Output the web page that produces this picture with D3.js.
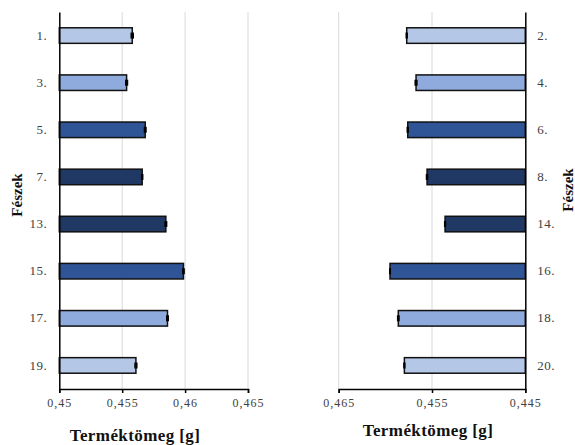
<!DOCTYPE html>
<html>
<head>
<meta charset="utf-8">
<script src="https://cdn.jsdelivr.net/npm/d3@7"></script>
<style>
  html, body { margin: 0; padding: 0; background: #fff; }
  svg { display: block; }
  svg text { font-family: "Liberation Serif", "Times New Roman", serif; }
</style>
</head>
<body>
<svg id="chart" width="575" height="445"></svg>
<script>
// Odd-numbered nests (left panel) and even-numbered nests (right panel)
const leftCats  = ["1.", "3.", "5.", "7.", "13.", "15.", "17.", "19."];
const leftVals  = [0.4558, 0.45535, 0.45683, 0.45659, 0.45847, 0.45987, 0.4586, 0.45609];
const leftErr   = [0.00008, 0.00007, 0.00006, 0.00004, 0.00006, 0.00005, 0.00006, 0.00007];

const rightCats = ["2.", "4.", "6.", "8.", "14.", "16.", "18.", "20."];
const rightVals = [0.45771, 0.45671, 0.4576, 0.45553, 0.4536, 0.4595, 0.45861, 0.45796];
const rightErr  = [0.00005, 0.00009, 0.00005, 0.00006, 0.00004, 0.00003, 0.00007, 0.00005];

const leftTicks  = [0.45, 0.455, 0.46, 0.465];
const rightTicks = [0.465, 0.455, 0.445];

const barColors = ["#b4c7e7", "#8faadc", "#2f5597", "#203864", "#203864", "#2f5597", "#8faadc", "#b4c7e7"];

const axisTitle = "Terméktömeg [g]";
const catTitle = "Fészek";

const svg = d3.select("#chart");
const fmt = d => String(d).replace(".", ",");

const plotTop = 12, plotBottom = 389;

function panel(cfg) {
  const x = d3.scaleLinear().domain(cfg.domain).range(cfg.range);
  const y = d3.scaleBand().domain(cfg.cats).range([plotTop, plotBottom]).paddingInner(0.67).paddingOuter(0.335);
  const g = svg.append("g");
  const base = cfg.domain[cfg.baseIndex];

  // gridlines
  g.selectAll("line.grid").data(cfg.ticks.filter(t => t !== base)).join("line")
    .attr("x1", d => x(d)).attr("x2", d => x(d))
    .attr("y1", plotTop).attr("y2", plotBottom)
    .attr("stroke", "#d9d9d9").attr("stroke-width", 1);

  // bars
  g.selectAll("rect.bar").data(cfg.vals).join("rect")
    .attr("x", d => Math.min(x(base), x(d)))
    .attr("width", d => Math.abs(x(d) - x(base)))
    .attr("y", (d, i) => y(cfg.cats[i]))
    .attr("height", y.bandwidth())
    .attr("fill", (d, i) => barColors[i])
    .attr("stroke", "#111").attr("stroke-width", 1.5);

  // error bars
  const eb = g.selectAll("g.err").data(cfg.vals).join("g")
    .attr("transform", (d, i) => `translate(0,${y(cfg.cats[i]) + y.bandwidth() / 2})`);
  eb.append("line")
    .attr("x1", (d, i) => x(d - cfg.err[i])).attr("x2", (d, i) => x(d + cfg.err[i]))
    .attr("stroke", "#000").attr("stroke-width", 1.5);
  [-1, 1].forEach(s => {
    eb.append("line")
      .attr("x1", (d, i) => x(d + s * cfg.err[i])).attr("x2", (d, i) => x(d + s * cfg.err[i]))
      .attr("y1", -3).attr("y2", 3)
      .attr("stroke", "#000").attr("stroke-width", 1.5);
  });

  // x axis
  const xAxis = d3.axisBottom(x).tickValues(cfg.ticks).tickFormat(fmt).tickSize(4).tickPadding(5);
  const ax = g.append("g").attr("transform", `translate(0,${plotBottom})`).call(xAxis)
    .attr("font-family", null);
  ax.select(".domain").attr("stroke", "#000").attr("stroke-width", 1.5);
  ax.selectAll(".tick line").attr("stroke", "#000").attr("stroke-width", 1.5);
  ax.selectAll(".tick text").attr("font-size", 12).attr("letter-spacing", 1).attr("fill", "#404040");

  // category axis
  const yAxis = (cfg.side === "left" ? d3.axisLeft(y) : d3.axisRight(y)).tickSize(0).tickPadding(12);
  const ay = g.append("g").attr("transform", `translate(${x(base)},0)`).call(yAxis)
    .attr("font-family", null);
  ay.select(".domain").attr("stroke", "#000").attr("stroke-width", 1.5);
  ay.selectAll(".tick text").attr("font-size", 13).attr("letter-spacing", 0.5).attr("fill", "#404040");

  // titles
  g.append("text").attr("x", cfg.titleX).attr("y", cfg.titleY)
    .attr("text-anchor", "middle").attr("font-size", 17).attr("font-weight", "bold")
    .attr("letter-spacing", 0.4).attr("fill", "#111").text(axisTitle);
  g.append("text")
    .attr("transform", `translate(${cfg.catX},${cfg.catY}) rotate(-90)`)
    .attr("text-anchor", "middle").attr("dominant-baseline", "central")
    .attr("font-size", 15).attr("font-weight", "bold").attr("fill", "#111").text(catTitle);
}

panel({ cats: leftCats, vals: leftVals, err: leftErr, ticks: leftTicks,
        domain: [0.45, 0.465], range: [59.3, 248], baseIndex: 0, side: "left",
        titleX: 135, titleY: 441, catX: 17, catY: 195 });

panel({ cats: rightCats, vals: rightVals, err: rightErr, ticks: rightTicks,
        domain: [0.465, 0.445], range: [338.7, 525.3], baseIndex: 1, side: "right",
        titleX: 428, titleY: 436, catX: 568, catY: 190 });
</script>
</body>
</html>
